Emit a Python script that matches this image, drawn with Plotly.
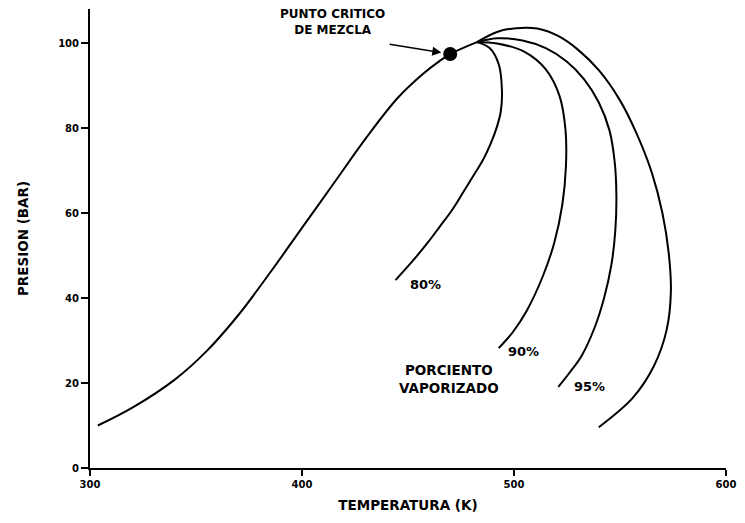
import plotly.graph_objects as go

# Envelope, bubble side up to the convergence point (T in K, P in bar)
bubble_T = [303.7, 320.0, 340.0, 355.0, 370.0, 385.0, 400.0, 415.0, 430.0,
            445.0, 457.0, 465.0, 469.9, 482.5]
bubble_P = [10.0, 14.2, 20.8, 27.5, 36.0, 46.0, 56.5, 67.0, 77.5,
            87.0, 92.7, 95.8, 97.4, 100.2]

# Dew side of the envelope (outermost curve)
dew_T = [482.5, 492.0, 501.0, 511.0, 521.0, 530.0, 540.0, 550.0, 558.0,
         565.0, 570.0, 573.0, 574.0, 572.0, 566.0, 556.0, 540.0]
dew_P = [100.2, 102.6, 103.5, 103.4, 101.6, 98.5, 93.6, 86.5, 78.5,
         69.5, 60.0, 50.5, 41.5, 32.5, 24.0, 16.5, 9.6]

# Quality lines (percent vaporized)
q95_T = [482.5, 492.0, 504.0, 515.0, 525.0, 533.0, 540.0, 545.0, 547.5,
         548.3, 547.8, 546.0, 542.5, 538.0, 532.0, 526.0, 520.9]
q95_P = [100.2, 101.1, 100.6, 98.8, 95.6, 91.5, 86.0, 79.5, 72.0,
         64.0, 56.0, 48.0, 40.0, 33.0, 26.5, 22.3, 19.1]

q90_T = [482.5, 492.0, 505.0, 515.0, 521.5, 524.3, 524.5, 522.8, 519.0,
         513.5, 506.0, 499.5, 492.8]
q90_P = [100.2, 99.9, 97.9, 93.8, 87.5, 79.5, 71.0, 62.0, 53.0,
         45.0, 37.0, 32.0, 28.2]

q80_T = [482.5, 488.5, 492.8, 494.3, 493.8, 491.9, 489.0, 485.8, 482.5,
         476.9, 470.8, 465.0, 459.1, 452.0, 444.1]
q80_P = [100.2, 98.8, 95.0, 89.0, 84.0, 80.2, 76.3, 72.9, 70.1,
         65.6, 60.7, 56.8, 52.9, 48.6, 44.2]

critical_T = [469.9]
critical_P = [97.4]

quality_labels = ["80%", "90%", "95%"]
quality_label_T = [458.2, 504.5, 535.4]
quality_label_P = [43.1, 27.3, 19.1]

x_ticks = [300, 400, 500, 600]
y_ticks = [0, 20, 40, 60, 80, 100]

FONT = "DejaVu Sans"
line_style = dict(color="black", width=2, shape="spline", smoothing=1.0)

fig = go.Figure()
for xs, ys in [(bubble_T, bubble_P), (dew_T, dew_P), (q95_T, q95_P),
               (q90_T, q90_P), (q80_T, q80_P)]:
    fig.add_trace(go.Scatter(x=xs, y=ys, mode="lines", line=line_style,
                             hoverinfo="skip", showlegend=False))

fig.add_trace(go.Scatter(x=critical_T, y=critical_P, mode="markers",
                         marker=dict(color="black", size=14),
                         showlegend=False, hoverinfo="skip"))

bold = dict(family=FONT, color="black", weight="bold")

for lab, tx, ty in zip(quality_labels, quality_label_T, quality_label_P):
    fig.add_annotation(x=tx, y=ty, text=lab, showarrow=False,
                       font=dict(size=13, **bold))

fig.add_annotation(x=469.4, y=20.9, text="PORCIENTO<br>VAPORIZADO",
                   showarrow=False, align="center",
                   font=dict(size=13.5, **bold))

fig.add_annotation(x=critical_T[0], y=critical_P[0],
                   ax=-62, ay=-10, axref="pixel", ayref="pixel",
                   text="", showarrow=True, arrowhead=2, arrowsize=1.2,
                   arrowwidth=1.5, arrowcolor="black", standoff=9)
fig.add_annotation(x=414.6, y=105.0, text="PUNTO CRITICO<br>DE MEZCLA",
                   showarrow=False, align="center",
                   font=dict(size=12, **bold))

fig.update_xaxes(range=[300, 600], tickvals=x_ticks, ticks="outside",
                 ticklen=6, tickwidth=1.5, tickcolor="black",
                 showline=True, linecolor="black", linewidth=2,
                 showgrid=False, zeroline=False,
                 tickfont=dict(size=10, **bold),
                 title=dict(text="TEMPERATURA (K)", standoff=12,
                            font=dict(size=13.5, **bold)))
fig.update_yaxes(range=[0, 108], tickvals=y_ticks, ticks="outside",
                 ticklen=7, tickwidth=1.5, tickcolor="black",
                 showline=True, linecolor="black", linewidth=2,
                 showgrid=False, zeroline=False,
                 tickfont=dict(size=10, **bold),
                 title=dict(text="PRESION (BAR)", standoff=26,
                            font=dict(size=13.5, **bold)))

fig.update_layout(width=745, height=523,
                  margin=dict(l=90, r=14, t=9, b=55),
                  plot_bgcolor="white", paper_bgcolor="white",
                  font=dict(family=FONT, color="black"))

fig.write_html("out.html")
